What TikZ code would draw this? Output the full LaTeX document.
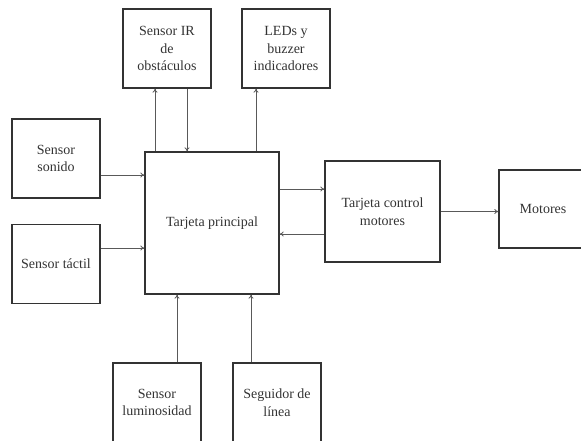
\documentclass[tikz,border=0pt]{standalone}
\usepackage{fontspec}
\setmainfont{Liberation Serif}
\usetikzlibrary{arrows.meta}
\definecolor{boxgray}{gray}{0.2}
\definecolor{wiregray}{gray}{0.35}

\begin{document}
\begin{tikzpicture}[
    x=1pt, y=1pt,
    font=\fontsize{14}{17.5}\selectfont,
    >={To[length=4pt,width=5pt]},
    block/.style={draw=boxgray, line width=1.3pt, text=boxgray, align=center,
      inner sep=2pt, minimum width=88pt, minimum height=79pt},
    wire/.style={->, draw=wiregray, line width=0.8pt}
  ]
  \clip (0,0) rectangle (581,-440);

  % central board
  \node[block, minimum width=134pt, minimum height=142pt] (main) at (212,-223) {Tarjeta principal};

  % top blocks
  \node[block] (ir)   at (167,-48.5) {Sensor IR\\de\\obst\'aculos};
  \node[block] (leds) at (286,-48.5) {LEDs y\\buzzer\\indicadores};

  % left sensors
  \node[block] (sonido) at (56,-158.5) {Sensor\\sonido};
  \node[block] (tactil) at (56,-264)   {Sensor t\'actil};

  % bottom sensors (cut by the page edge)
  \node[block] (lum) at (157,-402.5) {Sensor\\luminosidad};
  \node[block] (seg) at (277,-402.5) {Seguidor de\\l\'inea};

  % motor side
  \node[block, minimum width=115pt, minimum height=101pt] (control) at (382.5,-211.5) {Tarjeta control\\motores};
  \node[block, minimum height=78pt] (motores) at (543,-209) {Motores};

  % connectors
  \draw[wire] ([xshift=-12pt]ir.south |- main.north) -- ([xshift=-12pt]ir.south);
  \draw[wire] ([xshift=20pt]ir.south) -- ([xshift=20pt]ir.south |- main.north);
  \draw[wire] ([xshift=-30pt]leds.south |- main.north) -- ([xshift=-30pt]leds.south);

  \draw[wire] ([yshift=-16.5pt]sonido.east) -- ([yshift=-16.5pt]sonido.east -| main.west);
  \draw[wire] ([yshift=16pt]tactil.east) -- ([yshift=16pt]tactil.east -| main.west);

  \draw[wire] ([yshift=22.5pt]control.west -| main.east) -- ([yshift=22.5pt]control.west);
  \draw[wire] ([yshift=-22.5pt]control.west) -- ([yshift=-22.5pt]control.west -| main.east);
  \draw[wire] (control.east) -- (control.east -| motores.west);

  \foreach \src/\dx in {lum/20, seg/-26}
    \draw[wire] ([xshift=\dx pt]\src.north) -- ([xshift=\dx pt]\src.north |- main.south);
\end{tikzpicture}
\end{document}
